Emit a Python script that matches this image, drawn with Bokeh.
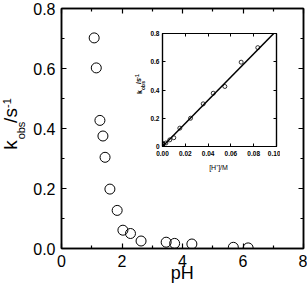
import math
from bokeh.plotting import figure
from bokeh.models import (Range1d, FixedTicker, PrintfTickFormatter, CustomJSTickFormatter,
                          LinearAxis)
from bokeh.core.properties import value
from bokeh.embed import file_html
from bokeh.resources import INLINE

# ---------------- data ----------------
ph = [1.08, 1.15, 1.27, 1.37, 1.44, 1.60, 1.84, 2.03, 2.28, 2.63, 3.46, 3.74, 4.31, 5.68, 6.17]
kobs = [0.702, 0.602, 0.427, 0.375, 0.304, 0.198, 0.127, 0.061, 0.050, 0.025, 0.021, 0.017, 0.015, 0.004, 0.002]

h_conc = [0.0836, 0.069, 0.0547, 0.0445, 0.0357, 0.0246, 0.0152, 0.0099, 0.0064, 0.0030,
          0.0004, 0.0002, 0.0001, 0.00002, 0.00001]
k_inset = [0.700, 0.597, 0.425, 0.377, 0.302, 0.200, 0.130, 0.062, 0.047, 0.025,
           0.021, 0.017, 0.015, 0.004, 0.002]
fit_x = [0.0, 0.1]
fit_y = [0.0, 0.82]

x_ticks = [0, 2, 4, 6, 8]
x_minor = [1, 3, 5, 7]
y_ticks = [0.0, 0.2, 0.4, 0.6, 0.8]
y_minor = [0.1, 0.3, 0.5, 0.7]
ix_ticks = [0.0, 0.02, 0.04, 0.06, 0.08, 0.10]
iy_ticks = [0.0, 0.2, 0.4, 0.6, 0.8]

FONT = "Liberation Sans"

# ---------------- main figure ----------------
p = figure(width=307, height=292, x_range=Range1d(0, 8), y_range=Range1d(0, 0.8),
           output_backend="svg", toolbar_location=None,
           min_border_left=61, min_border_right=4, min_border_top=8, min_border_bottom=44)
p.xgrid.visible = False
p.ygrid.visible = False
p.outline_line_color = "black"
p.outline_line_width = 1.5
p.background_fill_color = "white"
p.border_fill_color = "white"

bottom_ax = p.xaxis[0]
left_ax = p.yaxis[0]
bottom_ax.ticker = FixedTicker(ticks=x_ticks, minor_ticks=x_minor)
left_ax.ticker = FixedTicker(ticks=y_ticks, minor_ticks=y_minor)
bottom_ax.formatter = PrintfTickFormatter(format="%d")
left_ax.formatter = PrintfTickFormatter(format="%.1f")

top_ax = LinearAxis(ticker=FixedTicker(ticks=x_ticks, minor_ticks=x_minor))
right_ax = LinearAxis(ticker=FixedTicker(ticks=y_ticks, minor_ticks=y_minor))
p.add_layout(top_ax, "above")
p.add_layout(right_ax, "right")

for ax in [bottom_ax, left_ax, top_ax, right_ax]:
    ax.axis_line_color = "black"
    ax.axis_line_width = 1.5
    ax.major_tick_line_color = "black"
    ax.minor_tick_line_color = "black"
    ax.major_tick_line_width = 1.2
    ax.minor_tick_line_width = 1.2
    ax.major_tick_in = 5
    ax.major_tick_out = 0
    ax.minor_tick_in = 3
    ax.minor_tick_out = 0
    ax.major_label_text_font = FONT
    ax.major_label_text_color = "black"
    ax.major_label_text_font_size = "16px"
    ax.major_label_standoff = 6

for ax in [top_ax, right_ax]:
    ax.major_label_text_font_size = "1px"
    ax.major_label_text_color = None
    ax.major_label_standoff = 0

p.scatter(ph, kobs, size=10, marker="circle", fill_color=None, line_color="black", line_width=1)

# ---------------- inset ----------------
inset = figure(width=147, height=142, x_range=Range1d(0, 0.1), y_range=Range1d(0, 0.8),
               output_backend="svg", toolbar_location=None,
               min_border_left=29, min_border_right=4, min_border_top=5, min_border_bottom=24)
inset.styles = {"position": "absolute", "left": "133px", "top": "28px", "z-index": "10"}
inset.xgrid.visible = False
inset.ygrid.visible = False
inset.outline_line_color = "black"
inset.outline_line_width = 1.2
inset.border_fill_color = "white"
inset.background_fill_color = "white"

ib = inset.xaxis[0]
il = inset.yaxis[0]
ib.ticker = FixedTicker(ticks=ix_ticks)
il.ticker = FixedTicker(ticks=iy_ticks)
ib.formatter = PrintfTickFormatter(format="%.2f")
il.formatter = CustomJSTickFormatter(code="return tick == 0 ? '0' : tick.toFixed(1);")
itop = LinearAxis(ticker=FixedTicker(ticks=ix_ticks))
iright = LinearAxis(ticker=FixedTicker(ticks=iy_ticks))
inset.add_layout(itop, "above")
inset.add_layout(iright, "right")
for ax in [ib, il, itop, iright]:
    ax.axis_line_color = "black"
    ax.axis_line_width = 1.2
    ax.major_tick_line_color = "black"
    ax.major_tick_in = 3
    ax.major_tick_out = 0
    ax.minor_tick_line_color = None
    ax.major_label_text_font = FONT
    ax.major_label_text_font_style = "bold"
    ax.major_label_text_font_size = "6.5px"
    ax.major_label_text_color = "black"
    ax.major_label_standoff = 3
ib.major_label_standoff = 4
for ax in [itop, iright]:
    ax.major_label_text_font_size = "1px"
    ax.major_label_text_color = None
    ax.major_label_standoff = 0

inset.line(fit_x, fit_y, line_color="black", line_width=1.5)
inset.scatter(h_conc, k_inset, size=4, marker="circle", fill_color=None, line_color="black", line_width=0.8)

# ---------------- text overlay (axis titles; canvas pixels, y measured from bottom) ----------------
W, H = 307, 292
ov = figure(width=W, height=H, x_range=Range1d(0, W), y_range=Range1d(0, H),
            output_backend="svg", toolbar_location=None,
            x_axis_location=None, y_axis_location=None,
            min_border=0, min_border_left=0, min_border_right=0, min_border_top=0, min_border_bottom=0)
ov.styles = {"position": "absolute", "left": "0px", "top": "0px", "z-index": "20"}
ov.xgrid.visible = False
ov.ygrid.visible = False
ov.outline_line_color = None
ov.background_fill_color = None
ov.border_fill_color = None

rot = math.pi / 2
common = dict(text_font=value(FONT), text_color="black", text_align="center", text_baseline="middle")

def put(xs, ys, texts, size, angle=0.0, style="normal"):
    ov.text(x=xs, y=[H - y for y in ys], text=texts, angle=angle,
            text_font_size=value(size), text_font_style=value(style), **common)

# main axis titles
put([181.7], [272], ["pH"], "18px")
put([10, 10], [144.5, 115], ["k", "/s"], "19px", angle=rot)
put([20, 6], [130, 102.5], ["obs", "-1"], "11px", angle=rot)
# inset axis titles
put([218], [167], ["[H\u207a]/M"], "7px")
put([139, 138], [91.5, 80.5], ["k", "/s"], "7px", angle=rot, style="bold")
put([142.5, 136.5], [85, 76], ["obs", "-1"], "5px", angle=rot, style="bold")

# separate roots (no layout, so no frame alignment between them)
open("out.html", "w").write(file_html([p, inset, ov], INLINE))
